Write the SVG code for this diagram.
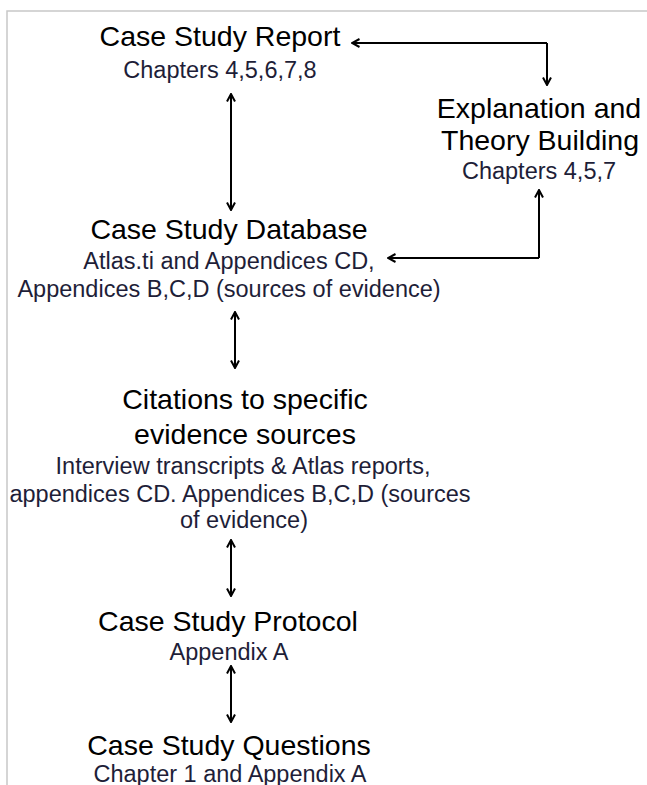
<svg xmlns="http://www.w3.org/2000/svg" width="647" height="785" viewBox="0 0 647 785">
  <style>
    .title { font-family: "Liberation Sans", Arial, sans-serif; font-size: 28.5px; fill: #000; text-anchor: middle; }
    .sub { font-family: "Liberation Sans", Arial, sans-serif; font-size: 23.5px; fill: #1e1e38; text-anchor: middle; }
    .conn { fill: none; stroke: #000; stroke-width: 2; }
    .frame { fill: none; stroke: #c8c8c8; stroke-width: 1.5; }
  </style>
  <defs>
    <marker id="head" viewBox="0 0 10 10" refX="9" refY="5" markerWidth="10" markerHeight="10" markerUnits="userSpaceOnUse" orient="auto-start-reverse">
      <path d="M1.5,1 L9,5 L1.5,9" fill="none" stroke="#000" stroke-width="2"/>
    </marker>
  </defs>

  <rect width="647" height="785" fill="#fff"/>
  <!-- page frame: top and left edges -->
  <path class="frame" d="M7,785 V11 H647"/>

  <g id="case-study-report">
    <text class="title" x="220" y="46">Case Study Report</text>
    <text class="sub" x="220" y="78">Chapters 4,5,6,7,8</text>
  </g>

  <g id="explanation-theory">
    <text class="title" x="539" y="118">Explanation and</text>
    <text class="title" x="540" y="150">Theory Building</text>
    <text class="sub" x="539" y="179">Chapters 4,5,7</text>
  </g>

  <g id="case-study-database">
    <text class="title" x="229" y="239">Case Study Database</text>
    <text class="sub" x="229" y="269">Atlas.ti and Appendices CD,</text>
    <text class="sub" x="229" y="297">Appendices B,C,D (sources of evidence)</text>
  </g>

  <g id="citations">
    <text class="title" x="245" y="409">Citations to specific</text>
    <text class="title" x="245" y="444">evidence sources</text>
    <text class="sub" x="243" y="474">Interview transcripts &amp; Atlas reports,</text>
    <text class="sub" x="240" y="502">appendices CD. Appendices B,C,D (sources</text>
    <text class="sub" x="244" y="528">of evidence)</text>
  </g>

  <g id="case-study-protocol">
    <text class="title" x="228" y="631">Case Study Protocol</text>
    <text class="sub" x="229" y="660">Appendix A</text>
  </g>

  <g id="case-study-questions">
    <text class="title" x="229" y="755">Case Study Questions</text>
    <text class="sub" x="230" y="782">Chapter 1 and Appendix A</text>
  </g>

  <g id="connectors">
    <!-- report <- elbow -> explanation -->
    <path class="conn" d="M547,43 H352" marker-end="url(#head)"/>
    <path class="conn" d="M547,43 V85" marker-end="url(#head)"/>
    <!-- explanation <- elbow -> database -->
    <path class="conn" d="M539,258 V190" marker-end="url(#head)"/>
    <path class="conn" d="M539,258 H388" marker-end="url(#head)"/>
    <!-- vertical two-way links down the left column -->
    <path class="conn" d="M231,94 V210" marker-start="url(#head)" marker-end="url(#head)"/>
    <path class="conn" d="M235,312 V368" marker-start="url(#head)" marker-end="url(#head)"/>
    <path class="conn" d="M231,540 V596" marker-start="url(#head)" marker-end="url(#head)"/>
    <path class="conn" d="M231,666 V722" marker-start="url(#head)" marker-end="url(#head)"/>
  </g>
</svg>
